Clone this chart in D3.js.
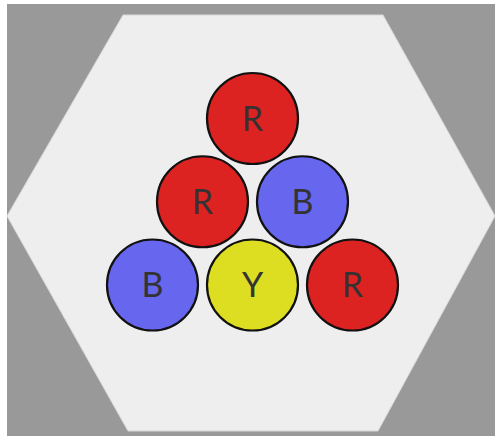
<!DOCTYPE html>
<html><head><meta charset="utf-8">
<script src="https://cdn.jsdelivr.net/npm/d3@7"></script>
<style>html,body{margin:0;padding:0;background:#fff;}svg{display:block;}</style>
</head><body>
<svg id="c" width="495" height="436"></svg>
<script>
// Data
const labels = ["R", "R", "B", "B", "Y", "R"];
const rows   = [0, 1, 1, 2, 2, 2];
const cols   = [0, -0.5, 0.5, -1, 0, 1];
const colorKeys = ["R", "B", "Y"];
const colorVals = ["#dd2222", "#6666ee", "#dddd22"];

const svg = d3.select("#c");
svg.append("rect").attr("x", 7).attr("y", 4).attr("width", 488).attr("height", 432).attr("fill", "#999999");

const hex = [[7,216],[123,15],[383,15],[495,216],[378,431],[128,431]];
svg.append("path").attr("d", d3.line()(hex) + "Z").attr("fill", "#eeeeee").attr("stroke", "#d8d8d8").attr("stroke-width", 1);

const x = d3.scaleLinear().domain([-1, 1]).range([152.5, 352.5]);
const y = d3.scaleLinear().domain([0, 2]).range([118.5, 285]);
const color = d3.scaleOrdinal().domain(colorKeys).range(colorVals);
const r = 45.5;

const data = labels.map((l, i) => ({l, row: rows[i], col: cols[i]}));
const g = svg.selectAll("g.ball").data(data).enter().append("g")
  .attr("transform", d => `translate(${x(d.col)},${y(d.row)})`);
g.append("circle").attr("r", r).attr("fill", d => color(d.l)).attr("stroke", "#111").attr("stroke-width", 2.2);
g.append("text").text(d => d.l).attr("text-anchor", "middle").attr("dy", "0.36em")
  .attr("font-family", "Lato, 'Open Sans', sans-serif").attr("font-size", 34).attr("fill", "#333");
</script>
</body></html>
